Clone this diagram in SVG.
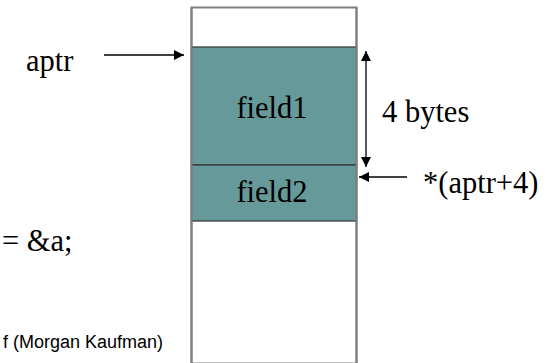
<svg xmlns="http://www.w3.org/2000/svg" width="559" height="363" viewBox="0 0 559 363">
  <defs>
    <marker id="head" viewBox="0 0 10 10" refX="10" refY="5" markerWidth="10" markerHeight="10" markerUnits="userSpaceOnUse" orient="auto-start-reverse">
      <path d="M0,0 L10,5 L0,10 z" fill="#000"/>
    </marker>
    <style>
      .serif { font-family: "Liberation Serif", "Times New Roman", serif; font-size: 30.5px; fill: #000; }
      .sans { font-family: "Liberation Sans", Arial, sans-serif; font-size: 18px; fill: #000; }
      .field { fill: #669999; stroke: #333; stroke-width: 1.2; }
      .conn { stroke: #000; stroke-width: 1.3; fill: none; }
    </style>
  </defs>
  <rect width="559" height="363" fill="#fff"/>

  <!-- memory block -->
  <g id="memory">
    <rect x="191.5" y="7.5" width="165" height="356" fill="#fff" stroke="#808080" stroke-width="2"/>
  </g>
  <g id="field1">
    <rect class="field" x="191.5" y="47" width="165" height="118"/>
    <text class="serif" x="272" y="118" text-anchor="middle">field1</text>
  </g>
  <g id="field2">
    <rect class="field" x="191.5" y="165" width="165" height="56"/>
    <text class="serif" x="272" y="202" text-anchor="middle">field2</text>
  </g>
  <line x1="191.5" y1="7.5" x2="191.5" y2="363" stroke="#808080" stroke-width="2"/>
  <line x1="356.5" y1="7.5" x2="356.5" y2="363" stroke="#808080" stroke-width="2"/>

  <!-- labels -->
  <g id="aptr">
    <text class="serif" x="26" y="71">aptr</text>
  </g>
  <g id="size">
    <text class="serif" x="382" y="122">4 bytes</text>
  </g>
  <g id="deref">
    <text class="serif" x="423" y="193">*(aptr+4)</text>
  </g>
  <g id="assign">
    <text class="serif" x="2" y="251">= &amp;a;</text>
  </g>
  <g id="credit">
    <text class="sans" x="163" y="348" text-anchor="end">f (Morgan Kaufman)</text>
  </g>

  <!-- connectors -->
  <g id="connectors">
    <line class="conn" x1="104" y1="55" x2="184" y2="55" marker-end="url(#head)"/>
    <line class="conn" x1="366" y1="51" x2="366" y2="167" marker-start="url(#head)" marker-end="url(#head)"/>
    <line class="conn" x1="407" y1="177" x2="359" y2="177" marker-end="url(#head)"/>
  </g>
</svg>
